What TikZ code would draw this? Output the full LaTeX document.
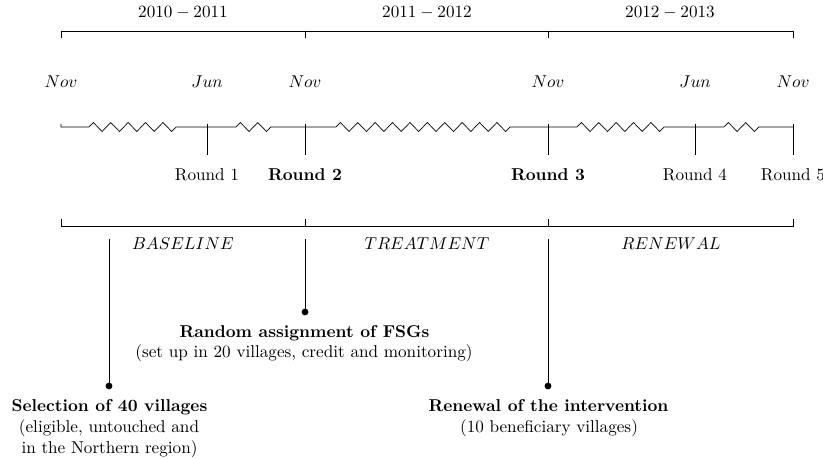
\documentclass[tikz,border=0pt]{standalone}
\usetikzlibrary{decorations.pathmorphing}
\begin{document}
\begin{tikzpicture}[x=0.5831pt,y=-0.5831pt,
  zz/.style={decorate,decoration={zigzag,segment length=10.146pt,amplitude=2.62pt}},
  lbl/.style={inner sep=0pt,anchor=base},
  dot/.style={circle,fill=black,inner sep=0pt,minimum size=4pt},
]
\useasboundingbox (0,0) rectangle (823,459);
% top bracket
\coordinate (ya) at (61,31); \coordinate (yb) at (305,31);
\coordinate (yc) at (548,31); \coordinate (yd) at (793,31);
\draw (61,38) -- (ya) -- (yd) -- (793,38);
\draw (yb) -- (305,38);
\draw (yc) -- (548,38);
\node[lbl] (y1) at (183,18) {$2010-2011$};
\node[lbl] (y2) at (427,18) {$2011-2012$};
\node[lbl] (y3) at (670,18) {$2012-2013$};
% months
\node[lbl] (m0) at (61,88) {$Nov$};
\node[lbl] (m1) at (207,88) {$Jun$};
\node[lbl] (m2) at (305,88) {$Nov$};
\node[lbl] (m3) at (548,88) {$Nov$};
\node[lbl] (m4) at (695,88) {$Jun$};
\node[lbl] (m5) at (793,88) {$Nov$};
% timeline
\coordinate (t0) at (61,127); \coordinate (t1) at (207,127);
\coordinate (t2) at (305,127); \coordinate (t3) at (548,127);
\coordinate (t4) at (695,127); \coordinate (t5) at (793,127);
\coordinate (z1s) at (89,127); \coordinate (z1e) at (176.5,127);
\coordinate (z2s) at (236,127); \coordinate (z2e) at (271.3,127);
\coordinate (z3s) at (336,127); \coordinate (z3e) at (510.5,127);
\coordinate (z4s) at (577,127); \coordinate (z4e) at (664.5,127);
\coordinate (z5s) at (724,127); \coordinate (z5e) at (759.3,127);
\draw (61,124) -- (t0) -- (z1s) decorate[zz]{-- (z1e)} -- (t1)
  -- (z2s) decorate[zz]{-- (z2e)} -- (t2)
  -- (z3s) decorate[zz]{-- (z3e)} -- (t3)
  -- (z4s) decorate[zz]{-- (z4e)} -- (t4)
  -- (z5s) decorate[zz]{-- (z5e)} -- (t5);
\foreach \x in {207,305,548,695,793} \draw (\x,124) -- (\x,155);
\node[lbl] (r1) at (207,181) {Round 1};
\node[lbl] (r2) at (305,181) {\textbf{Round 2}};
\node[lbl] (r3) at (548,181) {\textbf{Round 3}};
\node[lbl] (r4) at (695,181) {Round 4};
\node[lbl] (r5) at (793,181) {Round 5};
% bottom bracket
\coordinate (ba) at (61,226); \coordinate (bb) at (305,226);
\coordinate (bc) at (548,226); \coordinate (bd) at (793,226);
\draw (61,219) -- (ba) -- (bd) -- (793,219);
\draw (bb) -- (305,219);
\draw (bc) -- (548,219);
\node[lbl] (p1) at (183,250) {$BASELINE$};
\node[lbl] (p2) at (427,250) {$TREATMENT$};
\node[lbl] (p3) at (671,250) {$RENEWAL$};
% events
\coordinate (c1) at (109,239); \coordinate (c2) at (305,239); \coordinate (c3) at (548,239);
\node[dot] (d1) at (109,386) {};
\node[dot] (d2) at (305,312) {};
\node[dot] (d3) at (548,386) {};
\draw (c1) -- (d1.center);
\draw (c2) -- (d2.center);
\draw (c3) -- (d3.center);
\node[lbl] (s1) at (109.5,412) {\textbf{Selection of 40 villages}};
\node[lbl] (s2) at (109,433) {(eligible, untouched and};
\node[lbl] (s3) at (109.5,454) {in the Northern region)};
\node[lbl] (a1) at (304.5,338) {\textbf{Random assignment of FSGs}};
\node[lbl] (a2) at (304,358) {(set up in 20 villages, credit and monitoring)};
\node[lbl] (n1) at (548.5,412) {\textbf{Renewal of the intervention}};
\node[lbl] (n2) at (549,433) {(10 beneficiary villages)};
\end{tikzpicture}
\end{document}
